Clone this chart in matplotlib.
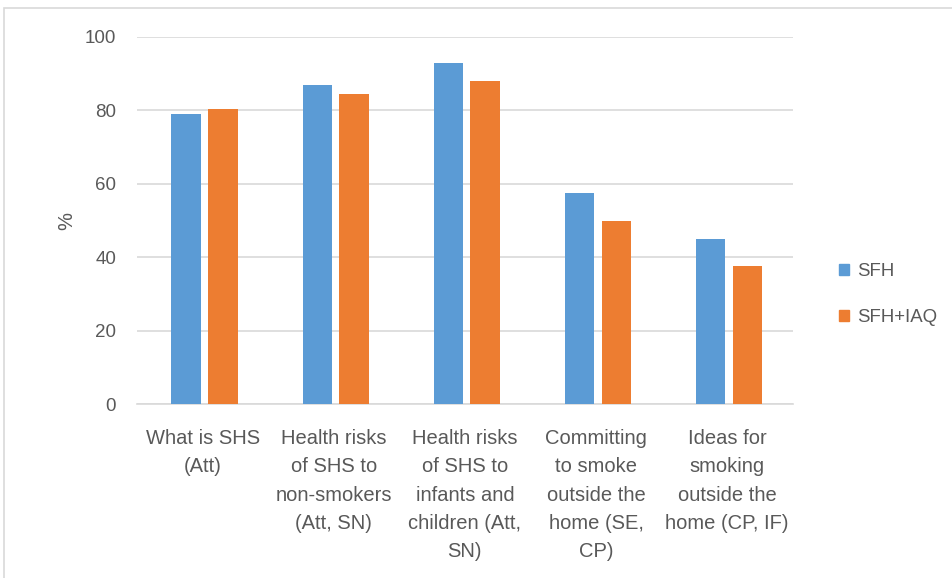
import numpy as np
import matplotlib
matplotlib.use("Agg")
import matplotlib.pyplot as plt
from matplotlib.patches import Rectangle

categories = [
    "What is SHS\n(Att)",
    "Health risks\nof SHS to\nnon-smokers\n(Att, SN)",
    "Health risks\nof SHS to\ninfants and\nchildren (Att,\nSN)",
    "Committing\nto smoke\noutside the\nhome (SE,\nCP)",
    "Ideas for\nsmoking\noutside the\nhome (CP, IF)",
]
sfh = [79, 87, 93, 57.5, 45]
sfh_iaq = [80.5, 84.5, 88, 50, 37.5]
series_names = ["SFH", "SFH+IAQ"]

BLUE = "#5B9BD5"
ORANGE = "#ED7D31"
TEXT = "#595959"

plt.rcParams["font.family"] = ["Liberation Sans", "DejaVu Sans"]

fig = plt.figure(figsize=(9.53, 5.78), dpi=100)
ax = fig.add_axes([0.1438, 0.301, 0.688, 0.635])

x = np.arange(len(categories))
w = 0.225
ax.bar(x - 0.125, sfh, w, color=BLUE, label=series_names[0], zorder=3)
ax.bar(x + 0.155, sfh_iaq, w, color=ORANGE, label=series_names[1], zorder=3)

ax.set_xlim(-0.5, len(categories) - 0.5)
ax.set_ylim(0, 100)
ax.set_yticks(range(0, 101, 20))
ax.yaxis.grid(True, color="#D9D9D9", lw=1.2, zorder=0)
for s in ["top", "right", "left"]:
    ax.spines[s].set_visible(False)
ax.spines["bottom"].set_color("#D9D9D9")
ax.spines["bottom"].set_linewidth(1.2)
ax.tick_params(axis="both", length=0, colors=TEXT, labelsize=13.5)
ax.tick_params(axis="y", pad=15)
ax.tick_params(axis="x", pad=18)
ax.set_xticks(x)
ax.set_xticklabels(categories, linespacing=1.62, fontsize=14.5, va="top")
ax.set_ylabel("%", color=TEXT, fontsize=14.5, labelpad=6)

handles = [Rectangle((0, 0), 1, 1, color=BLUE), Rectangle((0, 0), 1, 1, color=ORANGE)]
leg = fig.legend(handles, series_names, loc="center left", bbox_to_anchor=(0.863, 0.49),
                 frameon=False, handlelength=0.55, handleheight=0.55, handletextpad=0.4,
                 labelspacing=1.55, fontsize=13.4)
for t in leg.get_texts():
    t.set_color(TEXT)

# outer chart border
fig.patches.append(Rectangle((0.004, -0.01), 1.0, 0.997, transform=fig.transFigure,
                             fill=False, edgecolor="#D9D9D9", lw=1.2))

fig.savefig("out.png", dpi=100)
